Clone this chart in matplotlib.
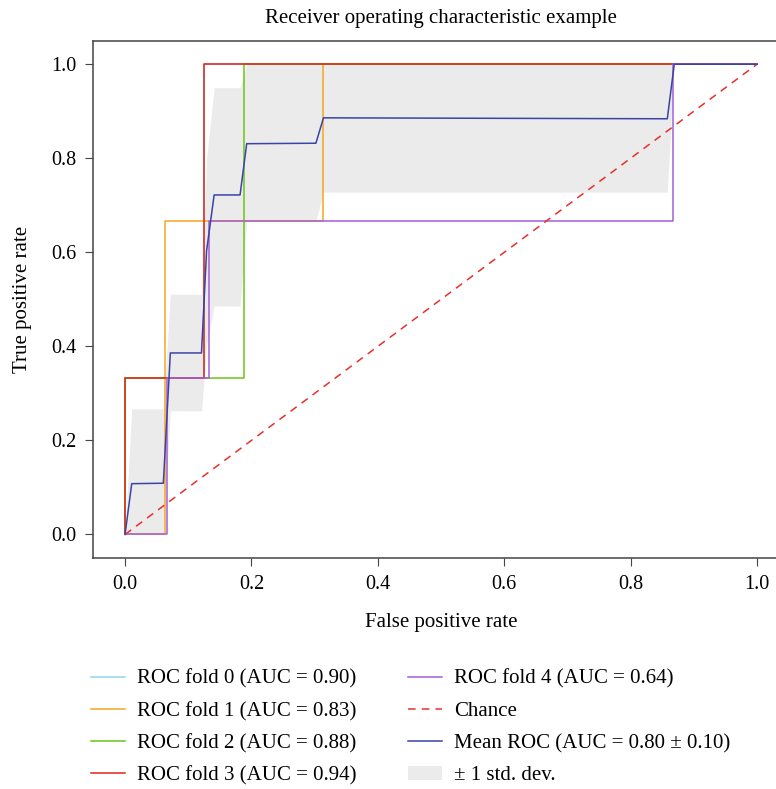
import matplotlib
matplotlib.use("Agg")
import matplotlib.pyplot as plt

plt.rcParams['font.family'] = ['Liberation Serif', 'DejaVu Serif']

# ROC curves per fold (fpr, tpr)
fold_fpr = [
    [0.0, 0.0, 0.125, 0.125, 1.0],
    [0.0, 0.0625, 0.0625, 0.3125, 0.3125, 1.0],
    [0.0, 0.0, 0.1875, 0.1875, 1.0],
    [0.0, 0.0, 0.125, 0.125, 1.0],
    [0.0, 0.067, 0.067, 0.133, 0.133, 0.867, 0.867, 1.0],
]
fold_tpr = [
    [0.0, 0.333, 0.333, 1.0, 1.0],
    [0.0, 0.0, 0.667, 0.667, 1.0, 1.0],
    [0.0, 0.333, 0.333, 1.0, 1.0],
    [0.0, 0.333, 0.333, 1.0, 1.0],
    [0.0, 0.0, 0.333, 0.333, 0.667, 0.667, 1.0, 1.0],
]
fold_auc = [0.90, 0.83, 0.88, 0.94, 0.64]
fold_colors = ['#8fd6ea', '#f5a623', '#6cc417', '#e0231c', '#a45fd6']

# mean ROC and +/- 1 std band
mean_fpr = [0.0, 0.0106, 0.0606, 0.0717, 0.121, 0.129, 0.141, 0.182,
            0.1925, 0.302, 0.314, 0.858, 0.869, 1.0]
mean_tpr = [0.0, 0.108, 0.109, 0.386, 0.386, 0.603, 0.722, 0.722,
            0.831, 0.832, 0.886, 0.884, 1.0, 1.0]
tpr_lower = [0.0, 0.0, 0.0, 0.263, 0.263, 0.40, 0.486, 0.486,
             0.667, 0.667, 0.728, 0.728, 1.0, 1.0]
tpr_upper = [0.0, 0.267, 0.267, 0.511, 0.511, 0.80, 0.95, 0.95,
             1.0, 1.0, 1.0, 1.0, 1.0, 1.0]
mean_auc = 0.80
std_auc = 0.10

fig = plt.figure(figsize=(7.76, 7.89), dpi=100)
ax = fig.add_axes([0.1204, 0.2928, 0.8959, 0.6556])

for i in range(len(fold_fpr)):
    ax.plot(fold_fpr[i], fold_tpr[i], color=fold_colors[i], lw=1.1, zorder=3,
            label='ROC fold %d (AUC = %0.2f)' % (i, fold_auc[i]))

ax.plot([0, 1], [0, 1], linestyle=(0, (5, 4)), lw=1.1, color='#e8302a',
        label='Chance', zorder=3)
ax.plot(mean_fpr, mean_tpr, color='#3c43a6', lw=1.1, zorder=4,
        label='Mean ROC (AUC = %0.2f \u00b1 %0.2f)' % (mean_auc, std_auc))
ax.fill_between(mean_fpr, tpr_lower, tpr_upper, color='#ebebeb', lw=0,
                zorder=1, label='\u00b1 1 std. dev.')

ax.set_xlim(-0.05, 1.05)
ax.set_ylim(-0.05, 1.05)
ax.set_xticks([0, 0.2, 0.4, 0.6, 0.8, 1.0])
ax.set_yticks([0, 0.2, 0.4, 0.6, 0.8, 1.0])
ax.tick_params(labelsize=14.5, length=6, color='#444444', pad=6)
for s in ax.spines.values():
    s.set_color('#444444')
    s.set_linewidth(1.1)

ax.set_xlabel('False positive rate', fontsize=15, labelpad=14)
ax.set_ylabel('True positive rate', fontsize=15, labelpad=14)
ax.set_title('Receiver operating characteristic example', fontsize=15, pad=13)

ax.legend(loc='upper left', bbox_to_anchor=(-0.03, -0.179), ncol=2,
          frameon=False, fontsize=15, handlelength=1.6, handletextpad=0.58,
          columnspacing=2.5, labelspacing=0.6)

fig.savefig('out.png', dpi=100)
